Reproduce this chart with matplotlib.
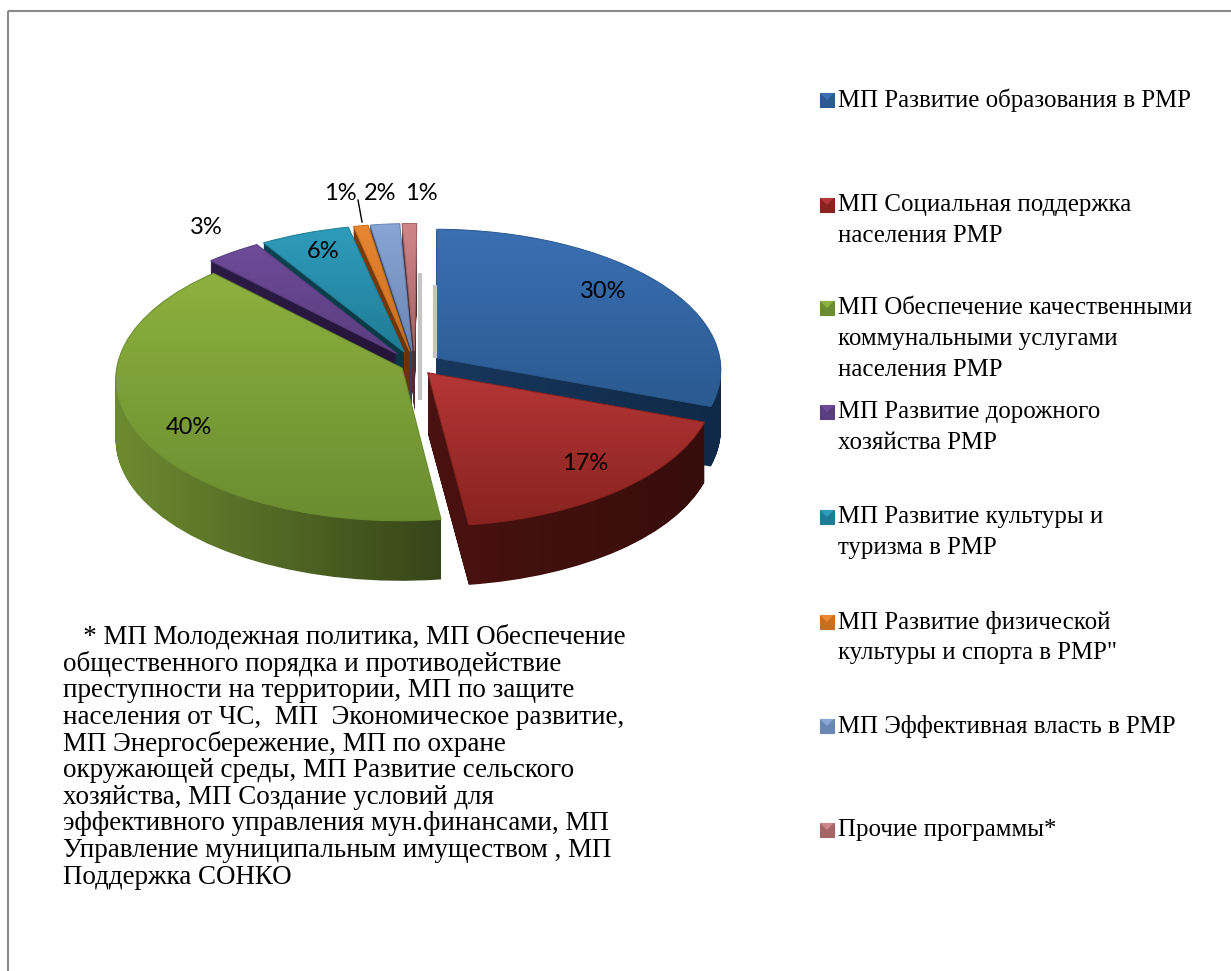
import numpy as np
import matplotlib
matplotlib.use('Agg')
import matplotlib.pyplot as plt
from matplotlib.path import Path
from matplotlib.patches import PathPatch, Rectangle, Polygon

# shares of the budget, %
shares = [30.4, 17.4, 39.7, 3.4, 5.5, 0.9, 1.8, 0.9]
explode = [0.09, 0.07, 0.05, 0.10, 0.10, 0.10, 0.10, 0.10]

legend_names = [
    ['МП Развитие образования в РМР'],
    ['МП Социальная поддержка', 'населения РМР'],
    ['МП Обеспечение качественными', 'коммунальными услугами', 'населения РМР'],
    ['МП Развитие дорожного', 'хозяйства РМР'],
    ['МП Развитие культуры и', 'туризма в РМР'],
    ['МП Развитие физической', 'культуры и спорта в РМР"'],
    ['МП Эффективная власть в РМР'],
    ['Прочие программы*'],
]
legend_y = [100, 205, 308, 412, 517, 622, 726, 830]

note_lines = [
    '   * МП Молодежная политика, МП Обеспечение',
    'общественного порядка и противодействие',
    'преступности на территории, МП по защите',
    'населения от ЧС,  МП  Экономическое развитие,',
    'МП Энергосбережение, МП по охране',
    'окружающей среды, МП Развитие сельского',
    'хозяйства, МП Создание условий для',
    'эффективного управления мун.финансами, МП',
    'Управление муниципальным имуществом , МП',
    'Поддержка СОНКО',
]

# top face colours (upper, lower) and wall colours (left, right)
top_cols = ['#3a6fb3', '#b53636', '#8db03e', '#6e4b98', '#2f9cbb', '#ea8730', '#88a6d6', '#d08688']
low_cols = ['#2b5a90', '#88231f', '#6b8c30', '#5a3e80', '#1f7c96', '#c86e20', '#6a86b3', '#a56466']
wall_l = ['#17375c', '#4a1210', '#6e8c30', '#2c1b45', '#0e4250', '#7a3c0c', '#3d4d68', '#5c3a3b']
wall_r = ['#0f2a48', '#360d0b', '#364519', '#251539', '#0b3844', '#6a340a', '#343f55', '#4a2e2f']

label_pos = [(603, 291), (585, 464), (189, 427), (206, 228), (323, 252), (340, 193), (380, 194), (421, 193)]

CX, CY, RX, RY, PERSP, DEPTH = 415, 365, 285, 140, 0.08, 60


def project(xy, dz=0):
    s = 1 + PERSP * xy[:, 1]
    return np.column_stack([CX + RX * xy[:, 0] / s, CY - RY * xy[:, 1] / s + dz])


def gradient(c0, c1, vertical):
    c0 = np.array(matplotlib.colors.to_rgb(c0))
    c1 = np.array(matplotlib.colors.to_rgb(c1))
    g = np.linspace(c0, c1, 128)
    return g[:, None, :] if vertical else g[None, :, :]


def fill(ax, path, c0, c1, vertical, edge):
    x0, y0 = path.vertices.min(axis=0)
    x1, y1 = path.vertices.max(axis=0)
    im = ax.imshow(gradient(c0, c1, vertical), extent=(x0, x1, y1, y0), aspect='auto',
                   interpolation='bilinear', origin='upper')
    im.set_clip_path(path, transform=ax.transData)
    if edge:
        ax.add_patch(PathPatch(path, fc='none', ec=edge, lw=0.7))


fig = plt.figure(figsize=(12.31, 9.71), dpi=100)
ax = fig.add_axes([0, 0, 1, 1])

wedges, _ = ax.pie(shares, explode=explode, startangle=89.5, counterclock=False)
paths = [Path(w.get_path().vertices.copy(), w.get_path().codes) for w in wedges]
for w in wedges:
    w.remove()
ax.set_aspect('auto')

# soft shadows next to the back slices
ax.plot([420, 420], [273, 400], color='#c4c4c4', lw=3, solid_capstyle='butt')
ax.plot([435, 435], [285, 358], color='#c4c4c4', lw=3, solid_capstyle='butt')

mids = [np.mean(p.vertices[:, 1]) for p in paths]
order = np.argsort(mids)[::-1]
for i in order:
    p = paths[i]
    layers = [Path(project(p.vertices, dz), p.codes) for dz in np.arange(DEPTH, 0, -1.0)]
    fill(ax, Path.make_compound_path(*layers), wall_l[i], wall_r[i], False, None)
    top = Path(project(p.vertices), p.codes)
    fill(ax, top, top_cols[i], low_cols[i], True, low_cols[i])

for i, (x, y) in enumerate(label_pos):
    ax.text(x, y, f'{round(shares[i])}%', family='Lato', fontsize=17, color='black', ha='center', va='center')
ax.plot([358, 362], [200, 222], color='black', lw=1)

for name, y, c0, c1 in zip(legend_names, legend_y, top_cols, low_cols):
    ax.add_patch(Rectangle((820, y - 7), 14, 14, fc=c1, ec=c1, lw=0.8))
    ax.add_patch(Polygon([(820, y - 7), (834, y - 7), (827, y)], fc=c0, ec='none'))
    for j, line in enumerate(name):
        ax.text(838, y + j * 31, line, family='Liberation Serif', fontsize=17.9, ha='left', va='center', color='black')

for j, line in enumerate(note_lines):
    ax.text(63, 637 + j * 26.7, line, family='Liberation Serif', fontsize=19.45, ha='left', va='center', color='black')

# chart frame, right and bottom sides fall outside the picture
ax.add_patch(Rectangle((8, 11), 1400, 1400, fc='none', ec='#8a8a8a', lw=1.5))

ax.set_xlim(0, 1231)
ax.set_ylim(971, 0)
ax.axis('off')
fig.savefig('out.png', dpi=100)
